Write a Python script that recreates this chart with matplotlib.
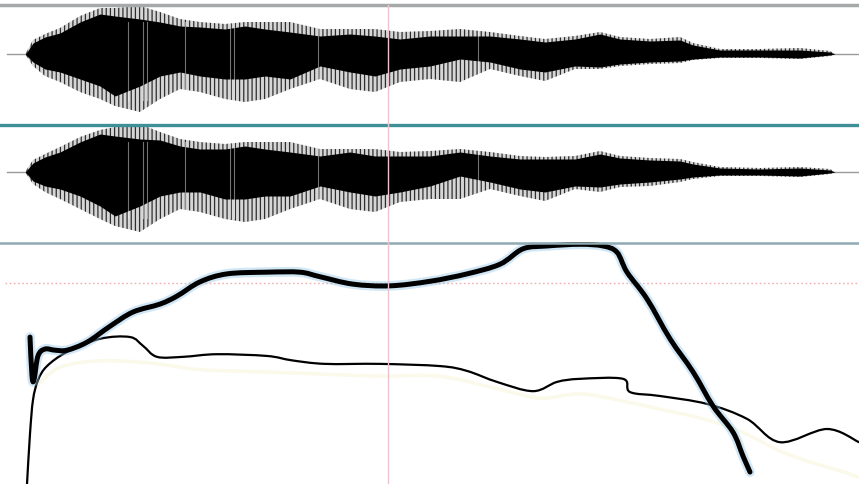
import numpy as np
import matplotlib
matplotlib.use("Agg")
import matplotlib.pyplot as plt
from matplotlib.lines import Line2D
from matplotlib.path import Path
from matplotlib.patches import PathPatch

# ---- waveform envelopes (time in s, amplitude in arbitrary units) ----
wave_t = [0.025, 0.027, 0.033, 0.045, 0.060, 0.080, 0.100, 0.115, 0.140, 0.160,
          0.180, 0.200, 0.225, 0.245, 0.265, 0.290, 0.320, 0.350, 0.375, 0.400,
          0.430, 0.460, 0.490, 0.520, 0.545, 0.575, 0.600, 0.620, 0.650, 0.680,
          0.693, 0.720, 0.760, 0.800, 0.830, 0.835]

ch1_outer_top = [0, 3, 14, 20, 26, 38, 46, 46, 48, 42, 35, 32, 30, 32, 32, 32, 25, 25,
                 25, 22, 23, 25, 22, 18, 15, 18, 22, 17, 15, 17, 11, 5, 5, 6, 3, 0]
ch1_core_top = [0, 2, 11, 17, 21, 32, 40, 38, 35, 32, 28, 27, 25, 28, 25, 22, 18, 20,
                18, 15, 18, 18, 18, 15, 12, 15, 20, 15, 13, 14, 9, 4, 4, 4, 2, 0]
ch1_outer_bot = [0, 3, 12, 22, 28, 38, 45, 52, 58, 45, 35, 38, 45, 48, 45, 35, 25, 35,
                 38, 28, 25, 28, 15, 22, 27, 15, 15, 12, 10, 9, 6, 4, 4, 5, 2, 0]
ch1_core_bot = [0, 2, 8, 15, 18, 25, 32, 42, 32, 22, 18, 22, 25, 25, 22, 25, 12, 18,
                22, 15, 12, 5, 8, 15, 18, 12, 13, 10, 8, 7, 5, 3, 3, 4, 1, 0]

ch2_outer_top = [0, 3, 12, 18, 25, 35, 42, 45, 48, 40, 33, 30, 28, 30, 30, 30, 23, 23,
                 23, 20, 21, 23, 20, 16, 15, 16, 21, 16, 14, 13, 10, 5, 4, 5, 3, 0]
ch2_core_top = [0, 2, 9, 15, 20, 30, 38, 36, 33, 32, 26, 23, 23, 26, 23, 20, 16, 20,
                16, 16, 16, 20, 16, 13, 13, 13, 18, 14, 12, 11, 8, 4, 3, 4, 2, 0]
ch2_outer_bot = [0, 3, 12, 20, 27, 37, 47, 54, 60, 47, 37, 40, 47, 50, 47, 37, 27, 37,
                 40, 30, 27, 27, 17, 24, 29, 17, 20, 15, 14, 10, 7, 4, 4, 5, 2, 0]
ch2_core_bot = [0, 2, 9, 14, 17, 24, 34, 44, 34, 24, 20, 20, 27, 27, 24, 24, 14, 20,
                24, 20, 14, 4, 10, 17, 20, 14, 15, 12, 10, 7, 5, 3, 3, 4, 1, 0]

# gaps between glottal pulses that show as light streaks
pulse_gaps = [0.128, 0.143, 0.147, 0.185, 0.230, 0.234, 0.318, 0.478]

# ---- pitch contour (Hz) ----
pitch_t = [0.030, 0.032, 0.034, 0.038, 0.045, 0.055, 0.067, 0.087, 0.110, 0.133,
           0.160, 0.177, 0.200, 0.227, 0.267, 0.300, 0.320, 0.353, 0.390, 0.430,
           0.467, 0.500, 0.523, 0.547, 0.580, 0.603, 0.617, 0.627, 0.647, 0.670,
           0.693, 0.713, 0.733, 0.743, 0.750]
pitch_hz = [333, 265, 258, 300, 312, 310, 310, 324, 352, 377,
            391, 405, 430, 444, 447, 447, 439, 426, 423, 431,
            444, 461, 488, 493, 496, 493, 482, 447, 400, 330,
            272, 212, 166, 124, 96]

# ---- intensity contour (dB) ----
inten_t = [0.027, 0.030, 0.033, 0.038, 0.047, 0.067, 0.100, 0.130, 0.143, 0.157,
           0.183, 0.217, 0.267, 0.292, 0.325, 0.380, 0.440, 0.467, 0.497, 0.533,
           0.557, 0.580, 0.623, 0.630, 0.660, 0.707, 0.747, 0.780, 0.827, 0.859]
inten_db = [30.0, 41.4, 49.1, 53.6, 56.8, 60.0, 63.0, 63.4, 61.4, 58.9,
            58.9, 59.5, 59.1, 58.1, 57.3, 57.3, 56.8, 55.7, 53.2, 51.1,
            53.2, 53.9, 53.9, 50.9, 50.0, 48.2, 44.8, 39.5, 42.5, 39.5]

# ---- faint energy track (dB) ----
track_t = [0.035, 0.060, 0.100, 0.150, 0.200, 0.260, 0.320, 0.380, 0.440, 0.500,
           0.540, 0.580, 0.620, 0.660, 0.700, 0.740, 0.780, 0.810, 0.840, 0.859]
track_db = [52.0, 56.5, 58.0, 57.5, 56.0, 55.5, 55.0, 54.5, 54.5, 51.5,
            49.5, 50.5, 49.0, 47.0, 45.0, 42.0, 37.5, 35.0, 33.0, 31.5]

W, H = 859, 485
plt.rcParams["hatch.linewidth"] = 0.9
fig = plt.figure(figsize=(W / 100, H / 100), dpi=100)
fig.patch.set_facecolor("white")

x_max = 0.859


def fpos(top_px, bot_px):
    return [0, 1 - bot_px / H, 1, (bot_px - top_px) / H]


def smooth_line(ax, xs, ys, **kw):
    """Draw a Catmull-Rom curve through the given points as Bezier segments."""
    p = np.column_stack([xs, ys]).astype(float)
    ext = np.vstack([p[0], p, p[-1]])
    verts = [p[0]]
    codes = [Path.MOVETO]
    for i in range(1, len(ext) - 2):
        p0, p1, p2, p3 = ext[i - 1], ext[i], ext[i + 1], ext[i + 2]
        verts += [p1 + (p2 - p0) / 6.0, p2 - (p3 - p1) / 6.0, p2]
        codes += [Path.CURVE4] * 3
    patch = PathPatch(Path(verts, codes), fill=False, transform=ax.transData,
                      capstyle="round", joinstyle="round", **kw)
    ax.add_patch(patch)
    return patch


def draw_channel(ax, ot, ct, ob, cb, ylim):
    ax.set_xlim(0, x_max)
    ax.set_ylim(*ylim)
    ax.axis("off")
    ax.plot([0.007, x_max], [0, 0], color="#9a9a9a", lw=1.0, zorder=1)
    t = np.array(wave_t)
    ax.fill_between(t, -np.array(ob), np.array(ot), facecolor="#d6d6d6",
                    edgecolor="#2e2e2e", hatch="||||", linewidth=0, zorder=2)
    ax.fill_between(t, -np.array(cb), np.array(ct), color="black", lw=0, zorder=3)
    for g in pulse_gaps:
        ax.axvline(g, ymin=0.2, ymax=0.85, color="white", lw=0.8, alpha=0.45, zorder=4)


ax1 = fig.add_axes(fpos(5, 125))
draw_channel(ax1, ch1_outer_top, ch1_core_top, ch1_outer_bot, ch1_core_bot, (-70, 50))

ax2 = fig.add_axes(fpos(125, 243))
draw_channel(ax2, ch2_outer_top, ch2_core_top, ch2_outer_bot, ch2_core_bot, (-70, 48))

# bottom panel: pitch (left scale) and intensity (right scale)
axp = fig.add_axes(fpos(243, 485))
axp.set_xlim(0, x_max)
axp.set_ylim(75, 500)
axp.axis("off")
axp.axhline(428, xmin=0.006, color="#f0b0b0", lw=1.0, ls=(0, (1.2, 1.8)), zorder=1)

axi = axp.twinx()
axi.set_xlim(0, x_max)
axi.set_ylim(30, 85)
axi.axis("off")
smooth_line(axi, track_t, track_db, color="#f8f5dc", lw=2.5, alpha=0.6, zorder=1)
smooth_line(axi, inten_t, inten_db, color="black", lw=1.6, zorder=3)

axp.set_zorder(axi.get_zorder() + 1)
axp.patch.set_visible(False)
smooth_line(axp, pitch_t, pitch_hz, color="#8ec3ea", lw=7, alpha=0.4, zorder=2)
smooth_line(axp, pitch_t, pitch_hz, color="black", lw=3.6, zorder=4)

# frame lines and cursor
fig.add_artist(Line2D([0, 1], [1 - 5.5 / H] * 2, color="#a6a9aa", lw=2.5))
fig.add_artist(Line2D([0, 1], [1 - 125.5 / H] * 2, color="#3e8f96", lw=2.4))
fig.add_artist(Line2D([0, 1], [1 - 243.5 / H] * 2, color="#8faab2", lw=1.8))
fig.add_artist(Line2D([388 / W] * 2, [0, 1 - 6 / H], color="#ecc4cd", lw=1.0))

fig.savefig("out.png", dpi=100, facecolor="white")
